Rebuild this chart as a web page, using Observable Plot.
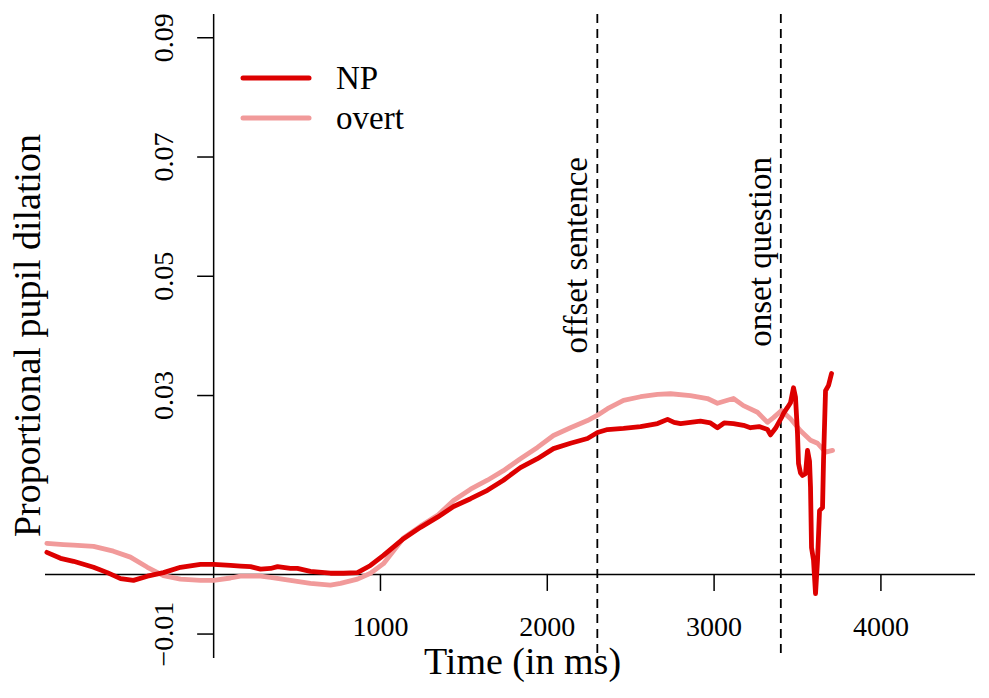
<!DOCTYPE html>
<html>
<head>
<meta charset="utf-8">
<script src="https://cdn.jsdelivr.net/npm/d3@7"></script>
<script src="https://cdn.jsdelivr.net/npm/@observablehq/plot@0.6"></script>
<style>
  body { margin: 0; background: #fff; }
</style>
</head>
<body>
<div id="chart"></div>
<script>
// ---------------- data ----------------
const seriesNames = ["NP", "overt"];
const seriesColors = ["#dd0000", "#f19a9a"];

const timeNP = [-1000,-918,-840,-720,-637,-558,-481,-397,-301,-199,-79,0,101,161,221,281,341,383,460,502,580,700,778,862,940,1018,1138,1240,1342,1438,1540,1641,1737,1839,1941,2037,2139,2241,2301,2361,2457,2559,2661,2721,2760,2799,2858,2918,2978,3020,3060,3116,3176,3218,3270,3320,3338,3368,3404,3416,3440,3458,3476,3488,3500,3506,3518,3530,3548,3560,3572,3578,3584,3596,3608,3620,3632,3650,3656,3668,3686,3704];
const valueNP = [0.0037,0.0027,0.0022,0.0012,0.0003,-0.0007,-0.0010,-0.0003,0.0003,0.0012,0.0017,0.0017,0.0015,0.0014,0.0013,0.0009,0.0010,0.0013,0.0010,0.0010,0.0005,0.0002,0.0002,0.0003,0.0015,0.0032,0.0060,0.0079,0.0096,0.0114,0.0127,0.0141,0.0158,0.0179,0.0194,0.0211,0.0220,0.0228,0.0238,0.0243,0.0245,0.0248,0.0253,0.0260,0.0255,0.0253,0.0255,0.0257,0.0254,0.0246,0.0254,0.0253,0.0250,0.0246,0.0248,0.0243,0.0234,0.0245,0.0263,0.0270,0.0280,0.0288,0.0313,0.0297,0.0236,0.0186,0.0170,0.0166,0.0169,0.0208,0.0190,0.0146,0.0045,0.0024,-0.0032,0.0024,0.0107,0.0112,0.0191,0.0308,0.0317,0.0337];

const timeOvert = [-1000,-900,-840,-720,-601,-499,-397,-301,-199,-79,0,101,161,281,341,460,580,700,760,862,940,1018,1138,1240,1342,1438,1540,1641,1737,1839,1941,2037,2139,2241,2301,2361,2457,2559,2661,2739,2858,2960,3020,3080,3116,3176,3260,3320,3356,3404,3458,3518,3578,3620,3668,3710];
const valueOvert = [0.0052,0.0050,0.0049,0.0047,0.0039,0.0029,0.0012,-0.0002,-0.0008,-0.0010,-0.0010,-0.0006,-0.0003,-0.0003,-0.0005,-0.0010,-0.0015,-0.0018,-0.0015,-0.0008,0.0002,0.0018,0.0061,0.0081,0.0099,0.0124,0.0143,0.0158,0.0174,0.0194,0.0213,0.0233,0.0246,0.0258,0.0267,0.0278,0.0292,0.0298,0.0302,0.0303,0.0300,0.0295,0.0287,0.0292,0.0295,0.0283,0.0272,0.0255,0.0263,0.0275,0.0261,0.0241,0.0225,0.0220,0.0205,0.0208];

const xTicks = [1000, 2000, 3000, 4000];
const yTicks = [-0.01, 0.03, 0.05, 0.07, 0.09];
const yTickLabels = ["\u22120.01", "0.03", "0.05", "0.07", "0.09"];
const eventTimes = [2300, 3400];
const eventLabels = ["offset sentence", "onset question"];
const eventLabelTop = 0.07;
const xTitle = "Time (in ms)";
const yTitle = "Proportional pupil dilation";

// ---------------- layout ----------------
const W = 989, H = 698;
const mL = 45, mR = 14, mT = 14, mB = 40;
const xDomain = [-1008, 4567];
const yDomain = [-0.0141, 0.0939];
const tickLenX = 17 * (yDomain[1] - yDomain[0]) / (H - mT - mB); // in y units
const tickLenY = 16 * (xDomain[1] - xDomain[0]) / (W - mL - mR); // in x units
const FONT = "'Liberation Serif', 'Times New Roman', serif";

const rows = [
  ...timeOvert.map((t, i) => ({series: "overt", t, v: valueOvert[i]})),
  ...timeNP.map((t, i) => ({series: "NP", t, v: valueNP[i]}))
];

function legendMark() {
  const g = d3.create("svg:g");
  seriesNames.forEach((name, i) => {
    const y = mT + 64 + i * 40;
    g.append("line")
      .attr("x1", mL + 198).attr("x2", mL + 264)
      .attr("y1", y).attr("y2", y)
      .attr("stroke", seriesColors[i])
      .attr("stroke-width", 5)
      .attr("stroke-linecap", "round");
    g.append("text")
      .attr("x", mL + 291).attr("y", y).attr("dy", "0.34em")
      .attr("text-anchor", "start")
      .attr("font-family", FONT)
      .attr("font-size", 33)
      .attr("fill", "black")
      .text(name);
  });
  return g.node();
}

const chart = Plot.plot({
  width: W,
  height: H,
  marginLeft: mL,
  marginRight: mR,
  marginTop: mT,
  marginBottom: mB,
  style: {fontFamily: FONT, fontSize: "27px", background: "white", color: "black"},
  x: {domain: xDomain, axis: null},
  y: {domain: yDomain, axis: null},
  color: {domain: seriesNames, range: seriesColors},
  marks: [
    // axes through the origin
    Plot.ruleY([0], {stroke: "black", strokeWidth: 1.5}),
    Plot.ruleX([0], {stroke: "black", strokeWidth: 1.5}),
    Plot.ruleX(xTicks, {x: d => d, y1: () => 0, y2: () => -tickLenX, stroke: "black", strokeWidth: 1.5}),
    Plot.ruleY(yTicks, {y: d => d, x1: () => 0, x2: () => -tickLenY, stroke: "black", strokeWidth: 1.5}),
    Plot.text(xTicks, {x: d => d, y: () => 0, dy: 53, text: d => String(d), fontSize: 28, fill: "black"}),
    Plot.text(yTicks, {x: () => 0, y: d => d, dx: -50, rotate: -90, text: (d, i) => yTickLabels[i], fontSize: 28, fill: "black"}),
    // event markers
    Plot.ruleX(eventTimes, {x: d => d, stroke: "black", strokeWidth: 1.8, strokeDasharray: "9,6"}),
    Plot.text(eventTimes, {x: d => d, y: () => eventLabelTop, text: (d, i) => eventLabels[i], rotate: -90,
      textAnchor: "end", lineAnchor: "bottom", dx: -10, fontSize: 33, fill: "black"}),
    // series
    Plot.line(rows, {x: "t", y: "v", z: "series", stroke: "series", strokeWidth: 4.8,
      strokeLinejoin: "round", strokeLinecap: "round"}),
    // titles
    Plot.text([xTitle], {frameAnchor: "bottom", textAnchor: "middle", text: d => d, dx: 12, dy: 15, fontSize: 38, fill: "black"}),
    Plot.text([yTitle], {frameAnchor: "left", textAnchor: "middle", text: d => d, rotate: -90, dx: -18, dy: -1, fontSize: 38, fill: "black"}),
    legendMark
  ]
});

document.getElementById("chart").appendChild(chart);
</script>
</body>
</html>
